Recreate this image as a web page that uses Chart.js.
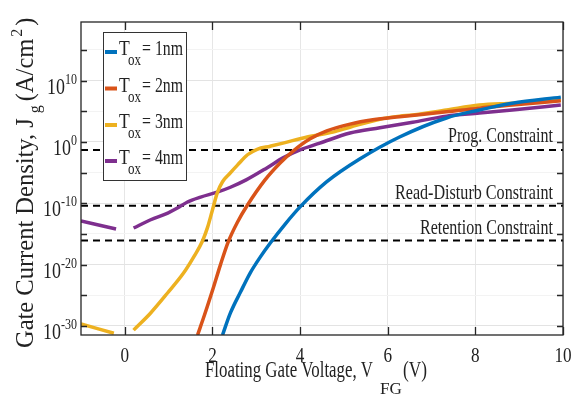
<!DOCTYPE html>
<html>
<head>
<meta charset="utf-8">
<script src="https://cdn.jsdelivr.net/npm/chart.js@4/dist/chart.umd.min.js"></script>
<style>
  html, body { margin: 0; padding: 0; background: #fff; }
  #wrap { width: 571px; height: 396px; }
</style>
</head>
<body>
<div id="wrap"><canvas id="myChart" width="571" height="396"></canvas></div>
<script>
// axis ranges and ticks
const vMin = -1, vMax = 10;
const jMin = 3.2e-32, jMax = 3.6e19;
const xTicks = [0, 2, 4, 6, 8, 10];
const yMajor = [1e-30, 1e-20, 1e-10, 1e0, 1e10];
const yMinor = [1e-25, 1e-15, 1e-5, 1e5, 1e15];
const yLabels = ["-30", "-20", "-10", "0", "10"];

// series (null = gap in the curve)
const tox1V = [2.23, 2.41, 2.64, 2.86, 3.09, 3.32, 3.66, 4.0, 4.61, 5.36, 6.27, 7.34, 8.09, 8.84, 9.95];
const tox1J = [3.2e-32, 1.26e-28, 3.2e-25, 4e-22, 1.6e-19, 3.2e-17, 4e-14, 2.5e-11, 3.2e-7, 1.6e-3, 6.3, 8e3, 1.6e5, 2e6, 2e7];

const tox2V = [1.66, 1.82, 2.02, 2.18, 2.36, 2.57, 2.80, 3.20, 3.55, 3.84, 4.23, 4.61, 5.14, 5.66, 6.27, 7.34, 8.09, 8.84, 9.95];
const tox2J = [3.2e-32, 6.3e-29, 1.6e-24, 8e-21, 5e-17, 8e-14, 5e-11, 6.3e-7, 4e-4, 0.032, 3.2, 63, 800, 4e3, 1.26e4, 8e4, 3.2e5, 1e6, 5e6];

const tox3V = [-1, -0.25, 0, 0.2, 0.59, 0.98, 1.34, 1.57, 1.77, 1.89, 2.0, 2.11, 2.23, 2.39, 2.57, 2.80, 3.02, 3.32, 3.61, 4.16, 4.75, 5.14, 5.82, 6.27, 6.57, 7.34, 8.09, 8.84, 9.95];
const tox3J = [2e-30, 6.3e-32, null, 2e-31, 1.26e-28, 2.5e-25, 4e-22, 1.6e-19, 6.3e-17, 1.26e-14, 8e-12, 5e-9, 3.2e-7, 6.3e-6, 1.6e-4, 8e-3, 0.063, 0.2, 0.63, 6.3, 40, 250, 5e3, 1.6e4, 2.5e4, 1.6e5, 1e6, 2e6, 6.3e6];

const tox4V = [-1, -0.2, 0, 0.2, 0.59, 0.98, 1.2, 1.43, 1.73, 2.11, 2.41, 2.77, 3.25, 3.61, 4.0, 4.45, 5.14, 5.82, 6.57, 7.34, 8.09, 8.84, 9.95];
const tox4J = [1.26e-13, 6.3e-15, null, 8.9e-15, 2e-13, 2.5e-12, 1.6e-11, 1.6e-10, 1e-9, 6.3e-9, 4e-8, 6.3e-7, 6.3e-5, 2.5e-3, 0.05, 0.63, 28, 200, 1.6e3, 1.6e4, 5e4, 1.6e5, 1e6];

const seriesNames = ["1nm", "2nm", "3nm", "4nm"];
const seriesColors = ["#0072BD", "#D95319", "#EDB120", "#7E2F8E"];

// constraint levels
const constraintNames = ["Prog. Constraint", "Read-Disturb Constraint", "Retention Constraint"];
const constraintJ = [0.05, 4e-11, 8e-17];

const FONT = '"Liberation Serif", "Times New Roman", serif';
const INK = "#222";

function pts(xs, ys) {
  return xs.map((x, i) => ({ x: x, y: ys[i] }));
}

// draw horizontally squeezed text, returns drawn width
function txt(ctx, s, x, y, size, align, sx, targetW) {
  ctx.font = size + "px " + FONT;
  const nat = ctx.measureText(s).width;
  if (targetW) sx = targetW / nat;
  const w = nat * sx;
  let x0 = x;
  if (align === "right") x0 = x - w;
  if (align === "center") x0 = x - w / 2;
  ctx.save();
  ctx.translate(x0, y);
  ctx.scale(sx, 1);
  ctx.textAlign = "left";
  ctx.textBaseline = "alphabetic";
  ctx.fillText(s, 0, 0);
  ctx.restore();
  return w;
}

const matlabLook = {
  id: "matlabLook",
  afterDraw(chart) {
    const ctx = chart.ctx, a = chart.chartArea;
    const xs = chart.scales.x, ys = chart.scales.y;
    ctx.save();

    // box + inward ticks
    ctx.strokeStyle = "#262626";
    ctx.lineWidth = 1.3;
    ctx.strokeRect(a.left, a.top, a.right - a.left, a.bottom - a.top);
    ctx.beginPath();
    xTicks.forEach(v => {
      const px = Math.round(xs.getPixelForValue(v)) + 0.5;
      ctx.moveTo(px, a.bottom); ctx.lineTo(px, a.bottom - 8);
      ctx.moveTo(px, a.top); ctx.lineTo(px, a.top + 8);
    });
    yMajor.concat(yMinor).forEach(v => {
      const py = Math.round(ys.getPixelForValue(v)) + 0.5;
      ctx.moveTo(a.left, py); ctx.lineTo(a.left + 6, py);
      ctx.moveTo(a.right, py); ctx.lineTo(a.right - 6, py);
    });
    ctx.stroke();

    ctx.fillStyle = INK;
    // x tick labels
    xTicks.forEach(v => {
      txt(ctx, String(v), xs.getPixelForValue(v), 362, 22, "center", 0.78);
    });
    // y tick labels 10^n
    yMajor.forEach((v, i) => {
      const py = ys.getPixelForValue(v);
      ctx.font = "15px " + FONT;
      const wSup = ctx.measureText(yLabels[i]).width * 0.8;
      ctx.font = "23px " + FONT;
      const wMain = ctx.measureText("10").width * 0.78;
      const right = 77;
      txt(ctx, "10", right - wSup - wMain, py + 13, 23, "left", 0.78);
      txt(ctx, yLabels[i], right - wSup, py + 3, 15, "left", 0.8);
    });

    // x axis title
    txt(ctx, "Floating Gate Voltage, V", 205, 377, 24, "left", 1, 168);
    txt(ctx, "FG", 380, 394, 17, "left", 1, 22);
    txt(ctx, "(V)", 403, 377, 24, "left", 1, 24);

    // y axis title (rotated)
    ctx.save();
    ctx.translate(33, 348);
    ctx.rotate(-Math.PI / 2);
    ctx.font = "24.5px " + FONT;
    ctx.textAlign = "left";
    ctx.textBaseline = "alphabetic";
    let p = 0;
    ctx.fillText("Gate Current Density, J", p, 0);
    p += ctx.measureText("Gate Current Density, J").width + 5;
    ctx.font = "16px " + FONT;
    ctx.fillText("g", p, 7);
    p += ctx.measureText("g").width + 4;
    ctx.font = "24.5px " + FONT;
    ctx.fillText("(A/cm", p, 0);
    p += ctx.measureText("(A/cm").width + 2;
    ctx.font = "16px " + FONT;
    ctx.fillText("2", p, -11);
    p += ctx.measureText("2").width + 3;
    ctx.font = "24.5px " + FONT;
    ctx.fillText(")", p, 0);
    ctx.restore();

    // constraint labels
    const cBase = [141.5, 199, 234];
    const cW = [105, 158, 133];
    constraintNames.forEach((s, i) => {
      txt(ctx, s, 553, cBase[i], 21, "right", 1, cW[i]);
    });

    // legend
    const lx = 103, ly = 32, lw = 83, lh = 148;
    ctx.fillStyle = "#fff";
    ctx.fillRect(lx, ly, lw, lh);
    ctx.strokeStyle = "#333";
    ctx.lineWidth = 1;
    ctx.strokeRect(lx + 0.5, ly + 0.5, lw, lh);
    const rows = [52, 88.5, 125, 161];
    seriesNames.forEach((s, i) => {
      const yy = rows[i];
      ctx.strokeStyle = seriesColors[i];
      ctx.lineWidth = 4;
      ctx.beginPath();
      ctx.moveTo(105, yy); ctx.lineTo(117, yy);
      ctx.stroke();
      ctx.fillStyle = INK;
      txt(ctx, "T", 119, yy + 3, 22, "left", 0.8);
      txt(ctx, "ox", 128, yy + 13, 16, "left", 1, 13);
      txt(ctx, "= " + s, 142, yy + 3, 22, "left", 1, 41);
    });

    ctx.restore();
  }
};

const curveSets = [
  pts(tox1V, tox1J), pts(tox2V, tox2J), pts(tox3V, tox3J), pts(tox4V, tox4J)
];

const datasets = curveSets.map((d, i) => ({
  label: "Tox = " + seriesNames[i],
  data: d,
  borderColor: seriesColors[i],
  borderWidth: 3.5,
  pointRadius: 0,
  cubicInterpolationMode: "monotone",
  spanGaps: false,
  fill: false
}));

constraintJ.forEach((j, i) => {
  datasets.push({
    label: constraintNames[i],
    data: [{ x: vMin, y: j }, { x: vMax, y: j }],
    borderColor: "#000",
    borderWidth: 2,
    borderDash: [7, 5],
    pointRadius: 0,
    fill: false
  });
});

new Chart("myChart", {
  type: "line",
  data: { datasets: datasets },
  options: {
    responsive: false,
    animation: false,
    devicePixelRatio: 1,
    layout: { padding: { top: 22, right: 8, left: 0, bottom: 0 } },
    plugins: { legend: { display: false }, tooltip: { enabled: false } },
    scales: {
      x: {
        type: "linear",
        min: vMin,
        max: vMax,
        afterBuildTicks: s => { s.ticks = xTicks.map(v => ({ value: v })); },
        afterFit: s => { s.height = 61; },
        ticks: { display: false },
        grid: { color: "#e6e6e6", lineWidth: 1, drawTicks: false },
        border: { display: false }
      },
      y: {
        type: "logarithmic",
        min: jMin,
        max: jMax,
        afterBuildTicks: s => {
          s.ticks = yMajor.concat(yMinor).sort((a, b) => a - b).map(v => ({ value: v }));
        },
        afterFit: s => { s.width = 81; },
        ticks: { display: false },
        grid: {
          drawTicks: false,
          lineWidth: 1,
          color: c => {
            const e = Math.round(Math.log10(c.tick.value));
            return e % 10 === 0 ? "#e3e3e3" : "#f3f3f3";
          }
        },
        border: { display: false }
      }
    }
  },
  plugins: [matlabLook]
});
</script>
</body>
</html>
